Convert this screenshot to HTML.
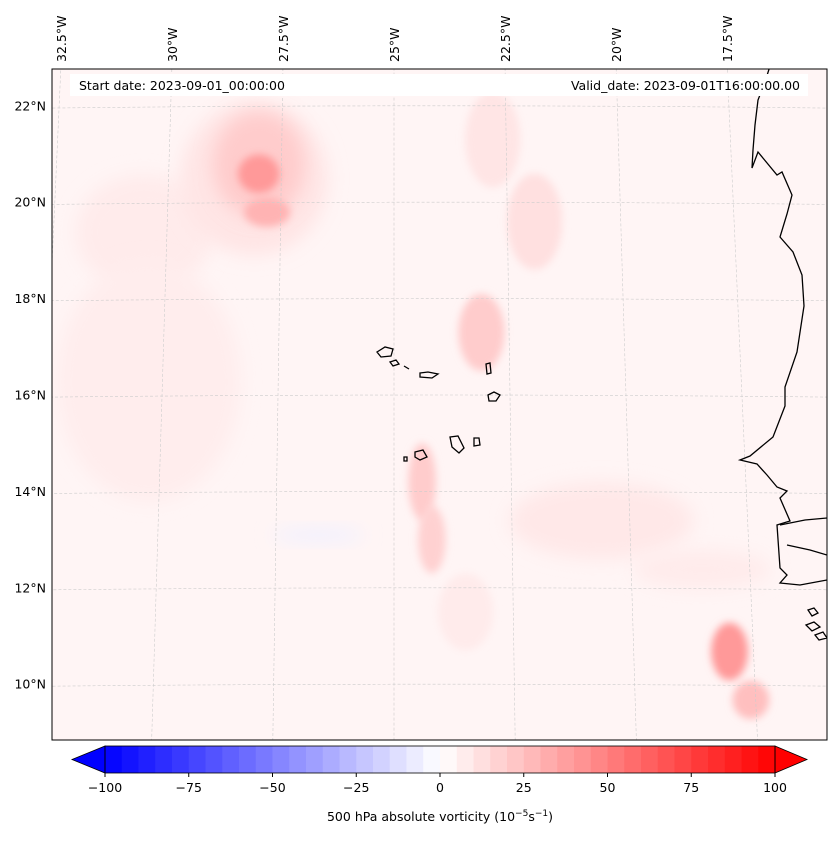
<!DOCTYPE html>
<html><head><meta charset="utf-8"><style>
body{margin:0;background:#fff;width:837px;height:839px;overflow:hidden;font-family:"Liberation Sans","DejaVu Sans",sans-serif;}
svg text{font-family:"DejaVu Sans","Liberation Sans",sans-serif;font-size:12.5px;fill:#000}
</style></head><body>
<svg width="837" height="839">
<defs>
<filter id="b8" x="-50%" y="-50%" width="200%" height="200%"><feGaussianBlur stdDeviation="9"/></filter>
<filter id="b4" x="-50%" y="-50%" width="200%" height="200%"><feGaussianBlur stdDeviation="4"/></filter>
<clipPath id="mc"><rect x="52" y="69" width="775" height="671"/></clipPath>
</defs>
<g clip-path="url(#mc)">
<rect x="52" y="69" width="775" height="671" fill="#fff5f5"/>
<g id="field"></g>
<g id="grid"></g>
<g fill="none" stroke="#000" stroke-width="1.3">
<polyline points="770,66 765,82 758,100 755,125 753,150 752,168 758,152 777,175 782,172 792,195 787,214 780,237 793,252 802,275 804,306 797,352 785,387 785,406 773,437 750,456 740,460 757,464 767,475 777,487 787,491 780,498 790,521 777,525 780,568 787,575 780,583 800,585 827,580"/>
<polyline points="780,525 805,520 827,518"/>
<polyline points="787,545 810,550 827,555"/>
<path d="M377,352 l8,-5 8,2 -2,7 -10,1z M390,362 l6,-2 3,4 -6,2z M404,366 l5,3 M420,373 l8,-1 10,2 -6,4 -12,-1z M486,364 l4,-1 1,10 -4,1z M488,395 l6,-3 6,3 -4,6 -7,0z M450,437 l8,-1 6,12 -5,5 -7,-6z M474,438 l5,0 1,7 -6,1z M415,452 l8,-2 4,7 -7,3 -5,-3z M404,457 l3,0 0,4 -3,0z"/>
<path d="M808,610 l6,-2 4,5 -6,3z M806,625 l8,-3 6,5 -8,4z M815,635 l8,-3 4,6 -8,2z"/>
</g>
</g>
<rect x="52" y="69" width="775" height="671" fill="none" stroke="#000" stroke-width="1"/>
<rect x="70" y="74" width="738" height="22" fill="#fff"/>
<text x="79" y="90">Start date: 2023-09-01_00:00:00</text>
<text x="800" y="90" text-anchor="end">Valid_date: 2023-09-01T16:00:00.00</text>
<g id="lonlab"></g>
<g id="latlab"></g>
<g id="cbar"></g>
<text x="440" y="821" text-anchor="middle">500 hPa absolute vorticity (10<tspan dy="-5" font-size="9">−5</tspan><tspan dy="5">s</tspan><tspan dy="-5" font-size="9">−1</tspan><tspan dy="5">)</tspan></text>
</svg>
<script>
const NS="http://www.w3.org/2000/svg";
const lonLabels=["32.5°W","30°W","27.5°W","25°W","22.5°W","20°W","17.5°W"];
const lonValues=[-32.5,-30,-27.5,-25,-22.5,-20,-17.5];
const latLabels=["22°N","20°N","18°N","16°N","14°N","12°N","10°N"];
const latValues=[22,20,18,16,14,12,10];
const cbTicks=[-100,-75,-50,-25,0,25,50,75,100];
// vorticity blobs: lon, lat, value, rx(deg), ry(deg)
const blobLon=[-30.5,-30.3,-28.1,-28.0,-28.0,-27.8,-22.8,-21.9,-23.1,-24.4,-24.2,-20.6,-18.0,-17.6,-26.6,-23.5,-18.5];
const blobLat=[19.4,16.3,20.5,20.8,20.6,19.8,21.3,19.6,17.3,14.2,13.0,13.4,10.7,9.7,13.1,11.5,12.4];
const blobVal=[8,7,10,20,40,30,10,12,20,20,18,9,40,25,-6,8,8];
const blobRx=[1.5,2.0,1.6,1.0,0.45,0.5,0.6,0.6,0.5,0.3,0.3,2.0,0.4,0.4,1.0,0.6,1.5];
const blobRy=[1.2,2.5,1.6,1.1,0.4,0.3,1.0,1.0,0.8,0.8,0.7,0.8,0.6,0.4,0.15,0.8,0.4];
function lx(lon,lat){return 394+(lon+25)*(46.4-(lat-16)*0.29);}
function ly(lat,lon){return 395-(lat-16)*48.2+Math.pow((lon+24),2)*0.03;}
function col(v){let t=(v+100)/200;t=Math.max(0,Math.min(1,t));let r,g,b;
 if(t<0.5){r=2*t;g=2*t;b=1;}else{r=1;g=2*(1-t);b=2*(1-t);}
 return `rgb(${Math.round(r*255)},${Math.round(g*255)},${Math.round(b*255)})`;}
const field=document.getElementById('field');
blobVal.forEach((v,i)=>{const e=document.createElementNS(NS,'ellipse');
 e.setAttribute('cx',lx(blobLon[i],blobLat[i]));e.setAttribute('cy',ly(blobLat[i],blobLon[i]));
 e.setAttribute('rx',blobRx[i]*46);e.setAttribute('ry',blobRy[i]*48);
 e.setAttribute('fill',col(v));e.setAttribute('filter',blobRx[i]<0.7?'url(#b4)':'url(#b8)');
 
 
 field.appendChild(e);});
const grid=document.getElementById('grid');
lonValues.forEach(lon=>{let pts=[];for(let lat=8;lat<=23.5;lat+=0.5)pts.push(lx(lon,lat)+','+ly(lat,lon));
 const p=document.createElementNS(NS,'polyline');p.setAttribute('points',pts.join(' '));
 p.setAttribute('fill','none');p.setAttribute('stroke','#ccc');p.setAttribute('stroke-width','0.6');p.setAttribute('stroke-dasharray','3,2');
 
 
 grid.appendChild(p);});
latValues.forEach(lat=>{let pts=[];for(let lon=-35;lon<=-14;lon+=0.5)pts.push(lx(lon,lat)+','+ly(lat,lon));
 const p=document.createElementNS(NS,'polyline');p.setAttribute('points',pts.join(' '));
 p.setAttribute('fill','none');p.setAttribute('stroke','#ccc');p.setAttribute('stroke-width','0.6');p.setAttribute('stroke-dasharray','3,2');
 
 
 grid.appendChild(p);});
const lonG=document.getElementById('lonlab');
lonLabels.forEach((s,i)=>{const t=document.createElementNS(NS,'text');
 const x=62+(lonValues[i]+32.5)*44.4;
 t.setAttribute('transform',`translate(${x+4},62) rotate(-90)`);t.textContent=s;
 
 
 lonG.appendChild(t);});
const latG=document.getElementById('latlab');
latLabels.forEach((s,i)=>{const t=document.createElementNS(NS,'text');
 t.setAttribute('x',46);t.setAttribute('y',395-(latValues[i]-16)*48.2+4.5);t.setAttribute('text-anchor','end');t.textContent=s;
 
 
 latG.appendChild(t);});
const cb=document.getElementById('cbar');
const cx0=105,cx1=775,cy0=746,cy1=773;
function cbx(v){return cx0+(v+100)/200*(cx1-cx0);}
for(let v=-100;v<100;v+=5){const r=document.createElementNS(NS,'rect');
 r.setAttribute('x',cbx(v));r.setAttribute('y',cy0);r.setAttribute('width',cbx(v+5)-cbx(v)+0.5);r.setAttribute('height',cy1-cy0);
 r.setAttribute('fill',col(v+2.5));
 
 
 cb.appendChild(r);}
const lt=document.createElementNS(NS,'polygon');lt.setAttribute('points',`${cx0},${cy0} 72,${(cy0+cy1)/2} ${cx0},${cy1}`);lt.setAttribute('fill','rgb(0,0,255)');lt.setAttribute('stroke','#000');lt.setAttribute('stroke-width','0.8');


cb.appendChild(lt);
const rt=document.createElementNS(NS,'polygon');rt.setAttribute('points',`${cx1},${cy0} 807,${(cy0+cy1)/2} ${cx1},${cy1}`);rt.setAttribute('fill','rgb(255,0,0)');rt.setAttribute('stroke','#000');rt.setAttribute('stroke-width','0.8');


cb.appendChild(rt);
const fr=document.createElementNS(NS,'rect');fr.setAttribute('x',cx0);fr.setAttribute('y',cy0);fr.setAttribute('width',cx1-cx0);fr.setAttribute('height',cy1-cy0);fr.setAttribute('fill','none');fr.setAttribute('stroke','#000');fr.setAttribute('stroke-width','0.8');


cb.appendChild(fr);
cbTicks.forEach(v=>{const l=document.createElementNS(NS,'line');l.setAttribute('x1',cbx(v));l.setAttribute('x2',cbx(v));l.setAttribute('y1',cy1);l.setAttribute('y2',cy1+4);l.setAttribute('stroke','#000');
 
 
 cb.appendChild(l);
 const t=document.createElementNS(NS,'text');t.setAttribute('x',cbx(v));t.setAttribute('y',792);t.setAttribute('text-anchor','middle');t.textContent=(v<0?'−'+(-v):v);
 
 
 cb.appendChild(t);});
</script>
</body></html>
